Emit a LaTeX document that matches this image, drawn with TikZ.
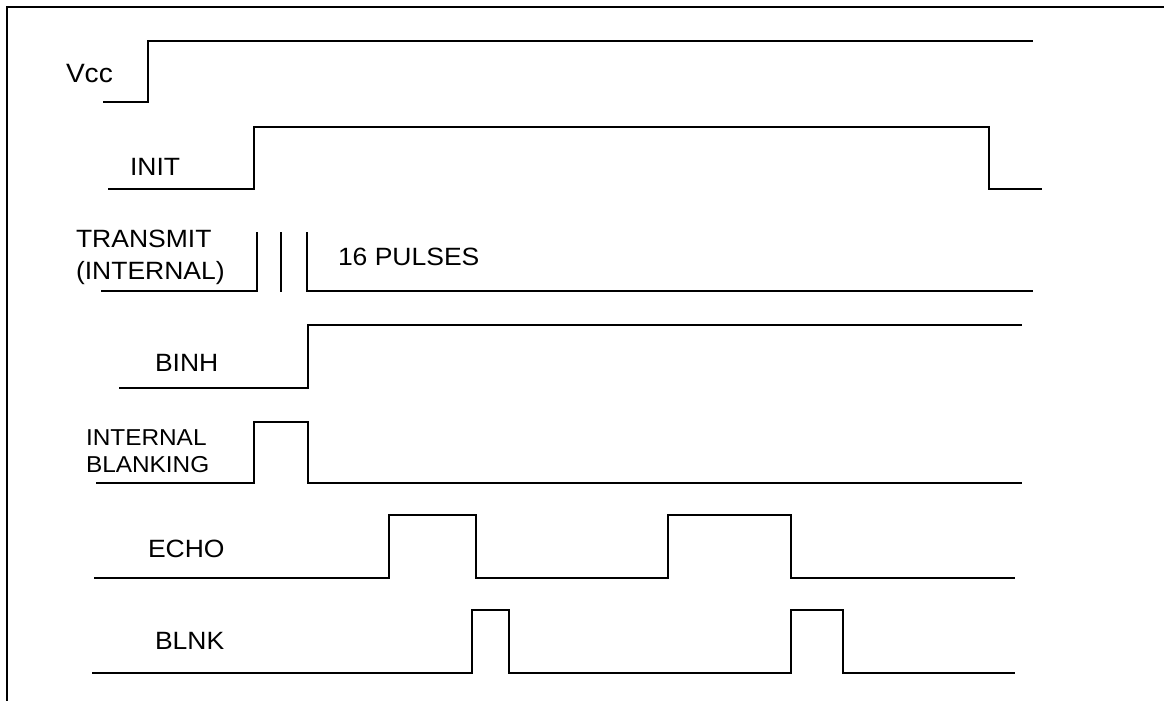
\documentclass[tikz,border=0pt]{standalone}
\usepackage{fontspec}
\setmainfont{Liberation Sans}[FakeStretch=1.06]
\begin{document}
\begin{tikzpicture}[x=1pt,y=-1pt,
  sig/.style={line width=1.9pt, line join=miter, black},
  frame/.style={line width=1.6pt, black},
  lbl/.style={anchor=base west, inner sep=0pt, outer sep=0pt, font=\fontsize{25}{30}\selectfont},
  lblbig/.style={anchor=base west, inner sep=0pt, outer sep=0pt, font=\fontsize{26.5}{30}\selectfont},
  lblsmall/.style={anchor=base west, inner sep=0pt, outer sep=0pt, font=\fontsize{23}{27}\selectfont}]
\useasboundingbox (0,0) rectangle (1164,701);
% frame
\draw[frame] (7,701) -- (7,7) -- (1164,7);
% Vcc
\draw[sig] (103,102) -- (148,102) -- (148,41) -- (1033,41);
\node[lblbig] (vcc) at (66,82) {Vcc};
% INIT
\draw[sig] (108,189) -- (254,189) -- (254,127) -- (989,127) -- (989,189) -- (1042,189);
\node[lbl] (init) at (130,175) {INIT};
% TRANSMIT
\draw[sig] (101,291) -- (257,291) -- (257,232);
\draw[sig] (281,232) -- (281,292);
\draw[sig] (307,232) -- (307,291) -- (1033,291);
\node[lbl] (tx1) at (76,247) {TRANSMIT};
\node[lbl] (tx2) at (76,279) {(INTERNAL)};
\node[lbl] (pulses) at (338,265) {16 PULSES};
% BINH
\draw[sig] (119,388) -- (308,388) -- (308,325) -- (1022,325);
\node[lbl] (binh) at (155,371) {BINH};
% INTERNAL BLANKING
\draw[sig] (96,483) -- (254,483) -- (254,422) -- (308,422) -- (308,483) -- (1022,483);
\node[lblsmall] (ib1) at (86,445) {INTERNAL};
\node[lblsmall] (ib2) at (86,472) {BLANKING};
% ECHO
\draw[sig] (94,578) -- (389,578) -- (389,515) -- (476,515) -- (476,578) -- (668,578) -- (668,515) -- (791,515) -- (791,578) -- (1015,578);
\node[lbl] (echo) at (148,557) {ECHO};
% BLNK
\draw[sig] (92,673) -- (472,673) -- (472,610) -- (509,610) -- (509,673) -- (791,673) -- (791,610) -- (843,610) -- (843,673) -- (1015,673);
\node[lbl] (blnk) at (155,649) {BLNK};
\end{tikzpicture}
\end{document}
